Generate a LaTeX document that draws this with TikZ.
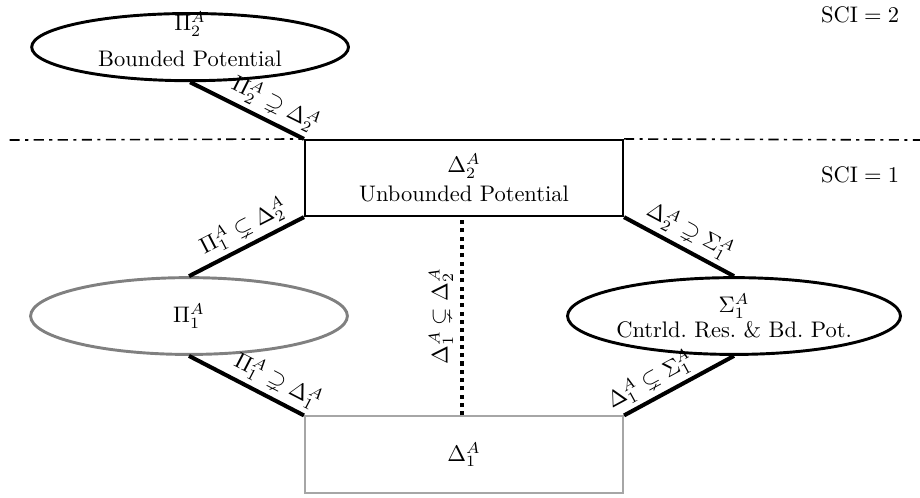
\documentclass[tikz,border=0pt]{standalone}
\usepackage{amsmath}
\usepackage{amssymb}
\usepackage{tikz}
\usetikzlibrary{shapes.geometric}

\frenchspacing
\tikzset{
  classoval/.style={ellipse, draw, line width=1.3pt, inner sep=0pt, align=center,
    minimum width=4.95cm, minimum height=1.2cm},
  classbox/.style={rectangle, draw, line width=0.9pt, inner sep=0pt, align=center,
    minimum width=4.97cm, minimum height=1.19cm},
  incl/.style={line width=1.8pt},
  incllabel/.style={sloped, above, inner sep=2pt},
  levelline/.style={line width=0.7pt, dash pattern=on 4.5pt off 2.4pt on 1.4pt off 2.4pt}
}

\begin{document}
\begin{tikzpicture}
\useasboundingbox (0,0) rectangle (14.375,7.766);
% level separator
    \coordinate (Lleft) at (0.15,5.578);
    \coordinate (Lright) at (14.375,5.578);
    \node (sci2) at (13.44,7.53) {$\mathrm{SCI}=2$};
    \node (sci1) at (13.44,5.03) {$\mathrm{SCI}=1$};

% classes
    \node[classoval, minimum height=1.05cm] (P2) at (2.97,7.03) {};
    \node[align=center] (P2text) at ([yshift=0.12cm]P2.center) {$\Pi_2^A$\\[4pt]Bounded Potential};
    \node[classbox, fill=white] (D2) at (7.25,4.984) {$\Delta_2^A$\\[1pt]Unbounded Potential};
    \node[classoval, draw=black!50] (P1) at (2.953,2.828) {$\Pi_1^A$};
    \node[classoval, minimum width=4.8cm] (S1) at (11.469,2.828) {$\Sigma_1^A$\\[-1pt]Cntrld. Res. \& Bd. Pot.};
    \node[classbox, draw=black!35] (D1) at (7.25,0.664) {$\Delta_1^A$};

    \draw[levelline] (Lleft) -- (D2.north west);
    \draw[levelline] (D2.north east) -- (Lright);

% inclusions
    \draw[incl] (P2.south) -- node[incllabel, pos=0.68] {$\Pi_2^A \supsetneq \Delta_2^A$} (D2.north west);
    \draw[incl] (P1.north) -- node[incllabel, pos=0.55] {$\Pi_1^A \subsetneq \Delta_2^A$} (D2.south west);
    \draw[incl] (D2.south east) -- node[incllabel, pos=0.52] {$\Delta_2^A \supsetneq \Sigma_1^A$} (S1.north);
    \draw[incl] (P1.south) -- node[incllabel, pos=0.7] {$\Pi_1^A \supsetneq \Delta_1^A$} (D1.north west);
    \draw[incl] (D1.north east) -- node[incllabel, pos=0.32] {$\Delta_1^A \subsetneq \Sigma_1^A$} (S1.south);

    \coordinate (dotlow) at ([xshift=-0.031cm]D1.north);
    \coordinate (dothigh) at ([xshift=-0.031cm]D2.south);
    \draw[line width=1.8pt, dash pattern=on 1.8pt off 1.9pt] (dotlow) -- node[incllabel, inner sep=3pt] {$\Delta_1^A \subsetneq \Delta_2^A$} (dothigh);
\end{tikzpicture}
\end{document}
